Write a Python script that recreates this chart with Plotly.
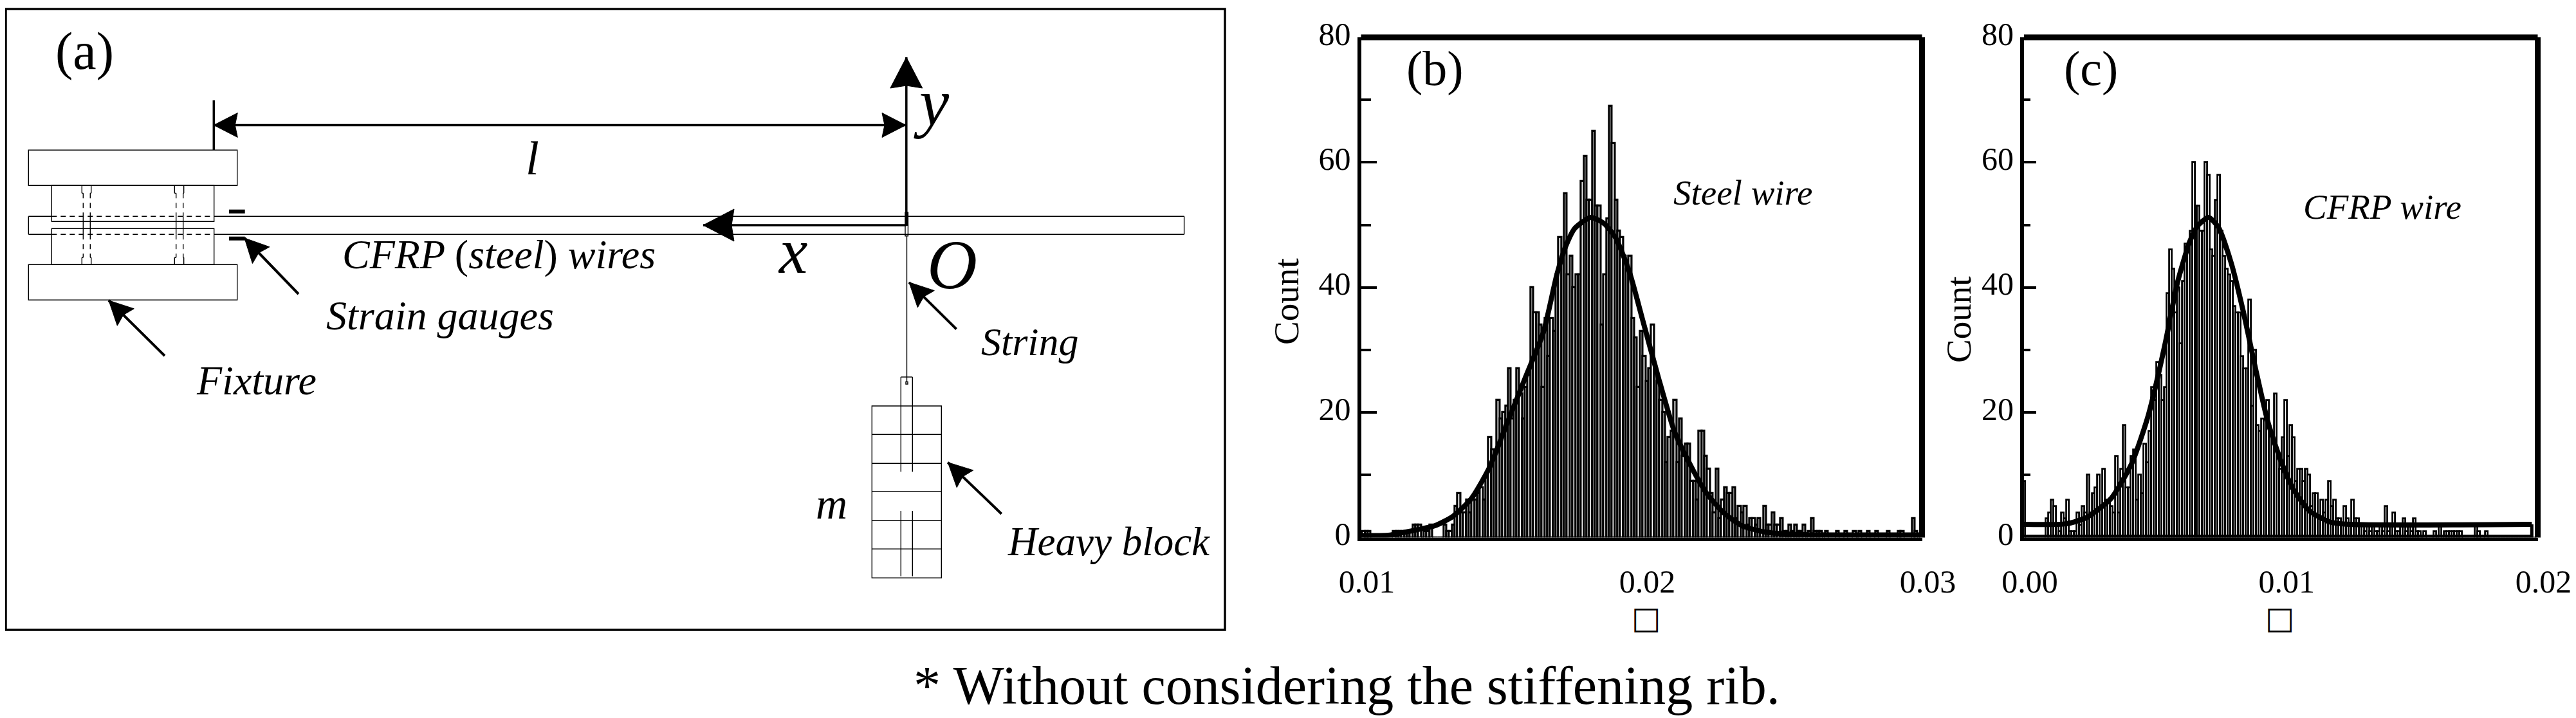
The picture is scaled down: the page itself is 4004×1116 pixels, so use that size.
"""Wire test figure: fixture schematic plus two count histograms."""
import math

import plotly.graph_objects as go

W, H = 4004, 1116
SERIF = "Liberation Serif"
PAGE_MARGIN = 8  # the page body adds this much before the plot starts

# (b) steel wire, counts per 0.0001 bin from 0.0100
steel_counts = [
    0, 1, 1, 1, 0, 0, 0, 0, 0, 0,
    0, 0, 1, 1, 1, 1, 1, 1, 1, 2,
    2, 2, 0, 1, 1, 2, 0, 0, 0, 0,
    2, 1, 1, 2, 5, 7, 4, 4, 6, 4,
    6, 6, 7, 8, 6, 10, 16, 14, 13, 22,
    19, 20, 21, 27, 19, 22, 27, 23, 19, 24,
    26, 40, 36, 36, 34, 24, 35, 29, 35, 33,
    42, 48, 45, 55, 42, 45, 40, 42, 42, 57,
    61, 54, 54, 65, 53, 53, 34, 42, 51, 69,
    63, 54, 49, 48, 45, 43, 45, 35, 32, 24,
    33, 29, 25, 27, 34, 27, 25, 22, 20, 12,
    16, 17, 22, 12, 19, 13, 15, 15, 9, 9,
    6, 17, 17, 13, 11, 7, 4, 11, 3, 6,
    8, 7, 7, 8, 3, 5, 4, 5, 2, 3,
    3, 2, 3, 1, 5, 2, 2, 4, 2, 2,
    3, 1, 1, 2, 1, 2, 1, 1, 2, 0,
    1, 3, 1, 1, 1, 0, 1, 0, 0, 0,
    1, 0, 0, 1, 0, 0, 1, 0, 1, 0,
    0, 1, 0, 0, 1, 0, 0, 0, 1, 0,
    0, 0, 1, 1, 0, 0, 0, 3, 1, 0,
]
steel_fit_x = [0.0100, 0.01103, 0.01183, 0.01264, 0.01328, 0.01393, 0.01457, 0.01521,
               0.01586, 0.0165, 0.01698, 0.0173, 0.01763, 0.01819, 0.01867, 0.01908,
               0.01956, 0.02004, 0.0206, 0.02117, 0.02165, 0.0223, 0.02294, 0.02358,
               0.02438, 0.0255, 0.0300]
steel_fit_y = [0.3, 0.4, 1.1, 1.9, 3.4, 6.2, 11.1, 18.3, 25.6, 32.8, 42, 46.6, 49.5,
               51.2, 50.2, 47.9, 42.6, 34.8, 25.6, 17, 12.4, 7.2, 3.9, 1.9, 0.9, 0.5, 0.4]

# (c) CFRP wire, counts per 0.0001 bin from 0.0000
cfrp_counts = [
    9, 0, 0, 0, 0, 0, 0, 0, 0, 3,
    4, 6, 5, 2, 1, 4, 3, 6, 1, 1,
    1, 4, 2, 5, 4, 10, 4, 7, 8, 10,
    5, 11, 6, 6, 5, 4, 13, 4, 11, 18,
    8, 8, 13, 14, 6, 10, 7, 15, 12, 17,
    24, 22, 28, 26, 22, 24, 39, 46, 43, 36,
    40, 31, 41, 47, 47, 49, 60, 53, 53, 49,
    49, 60, 58, 46, 45, 54, 58, 49, 45, 43,
    42, 41, 37, 36, 36, 29, 27, 27, 38, 21,
    30, 18, 17, 19, 19, 22, 17, 16, 23, 13,
    11, 16, 22, 13, 18, 16, 9, 11, 11, 9,
    11, 10, 5, 7, 7, 3, 6, 4, 6, 9,
    5, 6, 3, 3, 2, 5, 3, 2, 6, 3,
    3, 2, 2, 1, 2, 1, 2, 1, 1, 2,
    1, 5, 1, 2, 4, 1, 1, 2, 3, 1,
    2, 1, 3, 1, 1, 0, 1, 0, 0, 0,
    1, 0, 2, 0, 1, 1, 1, 1, 1, 1,
    1, 0, 0, 0, 0, 0, 2, 1, 0, 0,
    1, 0, 0, 0, 0, 0, 0, 0, 0, 0,
    0, 0, 0, 0, 0, 0, 0, 0, 0, 0,
]
cfrp_fit_x = [0.0, 0.00164, 0.00244, 0.0034, 0.0042, 0.00485, 0.00549, 0.00597, 0.00645,
              0.00677, 0.00719, 0.00757, 0.00806, 0.00854, 0.00902, 0.0095, 0.00998,
              0.01046, 0.0111, 0.0119, 0.0127, 0.01977]
cfrp_fit_y = [2.1, 2.2, 3.2, 6.3, 11.9, 19.7, 30.9, 40.7, 47.3, 49.9, 51.2, 49.6, 44,
              36.1, 26.9, 18.4, 12.5, 7.9, 4.3, 2.5, 2.1, 2.1]
# the baseline of the fit closes back along the axis at the right end
cfrp_close_x = [0.01977, 0.01977, 0.0]
cfrp_close_y = [2.1, 0.2, 0.2]

bin_width = 0.0001
y_ticks = [0, 20, 40, 60, 80]
steel_x_ticks = [0.01, 0.02, 0.03]
steel_x_labels = ["0.01", "0.02", "0.03"]
cfrp_x_ticks = [0.0, 0.01, 0.02]
cfrp_x_labels = ["0.00", "0.01", "0.02"]

fig = go.Figure()


def px(x):
    return (x - PAGE_MARGIN) / W


def py(y):
    return 1 - (y - PAGE_MARGIN) / H


def line(x0, y0, x1, y1, width=1.4, dash=None):
    fig.add_shape(type="line", xref="paper", yref="paper",
                  x0=px(x0), y0=py(y0), x1=px(x1), y1=py(y1),
                  line=dict(color="black", width=width, dash=dash))


def rect(x0, y0, x1, y1, width=1.4, fill=None):
    fig.add_shape(type="rect", xref="paper", yref="paper",
                  x0=px(x0), y0=py(y0), x1=px(x1), y1=py(y1),
                  fillcolor=fill, line=dict(color="black", width=width))


def head(tip_x, tip_y, from_x, from_y, length, half, notch):
    # barbed head, drawn as a filled path in paper coordinates
    d = math.hypot(tip_x - from_x, tip_y - from_y)
    ux, uy = (tip_x - from_x) / d, (tip_y - from_y) / d
    nx, ny = -uy, ux
    bx, by = tip_x - ux * length, tip_y - uy * length
    pts = [(tip_x, tip_y), (bx + nx * half, by + ny * half),
           (bx + ux * notch, by + uy * notch), (bx - nx * half, by - ny * half)]
    path = "M " + " L ".join(f"{px(a):.5f},{py(b):.5f}" for a, b in pts) + " Z"
    fig.add_shape(type="path", path=path, xref="paper", yref="paper",
                  fillcolor="black", line=dict(color="black", width=1))


def arrow(x0, y0, x1, y1, length=37, half=18.5, notch=5, width=4):
    line(x0, y0, x1, y1, width=width)
    head(x1, y1, x0, y0, length, half, notch)


def text(s, x, y, size, anchor="left", angle=0, font=SERIF):
    fig.add_annotation(text=s, xref="paper", yref="paper", x=px(x), y=py(y),
                       xanchor=anchor, yanchor="middle", showarrow=False, textangle=angle,
                       font=dict(family=font, size=size, color="black"))


# panel (a): outer box
rect(9, 14, 1904, 979, width=3.5)

# fixture plates
rect(44.3, 233.3, 368.7, 288.3)
rect(44.3, 411.3, 368.7, 466.3)
rect(80.3, 288.3, 332.7, 344.3)
rect(80.3, 355.3, 332.7, 411.3)

# wire, dashed where it runs inside the clamps
line(44.3, 336.3, 44.3, 364.3)
for wy in (336.3, 364.3):
    line(44.3, wy, 80.3, wy)
    line(80.3, wy, 332.7, wy, dash="8px,6px")
    line(332.7, wy, 1840.6, wy)
line(1840.6, 336.3, 1840.6, 364.3)

# bolts
for outer0, inner0, inner1, outer1 in ((127.3, 129.3, 140.3, 141.7), (271.3, 273.7, 284.7, 285.7)):
    for bx in (outer0, outer1):
        line(bx, 288.3, bx, 300.3)
        line(bx, 400.3, bx, 411.3)
    for by in (300.3, 400.3):
        line(outer0, by, inner0, by)
        line(inner1, by, outer1, by)
    for ix in (inner0, inner1):
        line(ix, 300.3, ix, 336.3, dash="8px,7px")
        line(ix, 336.3, ix, 364.3)
        line(ix, 364.3, ix, 400.3, dash="8px,7px")

# strain gauges
line(356, 328.7, 380.7, 328.7, width=6)
line(356, 370.7, 380.7, 370.7, width=6)

# dimension l and axes
line(332.3, 156, 332.3, 233.3, width=3.5)
line(332.3, 194.5, 1408, 194.5, width=3.5)
head(332.3, 194.5, 1408, 194.5, 37, 19, 4)
head(1408, 194.5, 332.3, 194.5, 37, 19, 4)
arrow(1408.8, 345, 1408.8, 89, length=48, half=25, notch=4, width=3.5)
arrow(1408.8, 350, 1093, 350, length=48, half=25, notch=4, width=3.5)
rect(1407, 330, 1411.4, 350, fill="black")
rect(1407, 350, 1411.4, 366.7)

# string and heavy block
line(1409.5, 366.7, 1409.5, 594)
rect(1408, 593.5, 1411, 597)
rect(1355.3, 631, 1463.3, 898.3)
for by in (675.3, 720.3, 764.3, 809.3, 853.3):
    line(1355.3, by, 1463.3, by)
for sx in (1400.3, 1418.3):
    line(sx, 586, sx, 733.3)
    line(sx, 794, sx, 895.7)
line(1400.3, 586, 1418.3, 586)

# leader arrows
arrow(464, 457, 380, 370)
arrow(256, 553, 169, 467)
arrow(1486.6, 511.5, 1413, 438.8)
arrow(1556.7, 798.7, 1473.3, 718.7)

# panel (a) labels
text("(a)", 131, 80, 82, "center")
text("<i>l</i>", 827, 245, 75, "center")
text("<i>CFRP </i>(<i>steel</i>)<i> wires</i>", 530, 395, 64)
text("<i>Strain gauges</i>", 505, 490, 64)
text("<i>Fixture</i>", 303, 591, 64)
text("<i>x</i>", 1232, 390, 100, "center")
text("<i>y</i>", 1448, 158, 104, "center")
text("<i>O</i>", 1480, 411, 108, "center")
text("<i>String</i>", 1523, 531, 62)
text("<i>m</i>", 1292, 783, 68, "center")
text("<i>Heavy block</i>", 1564, 842, 63)

# panel labels on the histograms
text("(b)", 2230, 106, 76, "center")
text("<i>Steel wire</i>", 2599, 299, 55)
text("(c)", 3250, 106, 76, "center")
text("<i>CFRP wire</i>", 3578, 321, 55)
text("Count", 2000, 469, 55, "center", angle=-90)
text("Count", 3044, 497, 55, "center", angle=-90)
text("□", 2558, 960, 48, "center", font="DejaVu Sans")
text("□", 3543, 960, 48, "center", font="DejaVu Sans")
text("* Without considering the stiffening rib.", 2093, 1065, 84, "center")

# panels (b) and (c)
panels = [
    ("x", "y", 0.01, 0.03, 2115.5, 2987.5, steel_counts, steel_fit_x, steel_fit_y,
     steel_x_ticks, steel_x_labels, 24, 15, 3.2),
    ("x2", "y2", 0.0, 0.02, 3146, 3944.5, cfrp_counts, cfrp_fit_x, cfrp_fit_y,
     cfrp_x_ticks, cfrp_x_labels, 19, 10, 2.8),
]
for xref, yref, x_min, x_max, left, right, counts, fit_x, fit_y, x_ticks, x_labels, major, minor, outline in panels:
    fig.add_trace(go.Bar(x=[x_min + i * bin_width for i in range(len(counts))], y=counts,
                         width=bin_width, xaxis=xref, yaxis=yref, showlegend=False,
                         marker=dict(color="white", line=dict(color="black", width=outline))))
    fig.add_trace(go.Scatter(x=fit_x, y=fit_y, mode="lines", xaxis=xref, yaxis=yref,
                             showlegend=False, cliponaxis=False,
                             line=dict(color="black", width=8, shape="spline", smoothing=0.6)))
    xname = "xaxis" if xref == "x" else "xaxis2"
    yname = "yaxis" if yref == "y" else "yaxis2"
    fig.update_layout({
        xname: dict(domain=[px(left), px(right)], range=[x_min, x_max], anchor=yref,
                    automargin=False, tickvals=x_ticks, ticktext=x_labels, ticks="outside",
                    ticklen=20, tickcolor="rgba(0,0,0,0)", showgrid=False, zeroline=False,
                    showline=True, linecolor="black", linewidth=5, ticklabelshift=9,
                    tickfont=dict(family=SERIF, size=50, color="black")),
        yname: dict(domain=[py(835.5), py(58)], range=[0, 80], anchor=xref,
                    automargin=False, tickvals=y_ticks, ticks="inside", ticklen=major,
                    tickwidth=4, tickcolor="black", showgrid=False, zeroline=False,
                    showline=True, linecolor="black", linewidth=6, ticklabelshift=-6,
                    minor=dict(tickvals=[10, 30, 50, 70], ticks="inside", ticklen=minor,
                               tickwidth=4, tickcolor="black"),
                    tickfont=dict(family=SERIF, size=50, color="black")),
    })
    # thick top and right frame
    dx = xref + " domain"
    dy = yref + " domain"
    fig.add_shape(type="line", xref=dx, yref=dy, x0=0, x1=1, y0=1, y1=1,
                  line=dict(color="black", width=9))
    fig.add_shape(type="line", xref=dx, yref=dy, x0=1, x1=1, y0=0, y1=1,
                  line=dict(color="black", width=9))

fig.add_trace(go.Scatter(x=cfrp_close_x, y=cfrp_close_y, mode="lines", xaxis="x2", yaxis="y2",
                         showlegend=False, cliponaxis=False,
                         line=dict(color="black", width=5)))

fig.update_layout(width=W, height=H, margin=dict(l=0, r=0, t=0, b=0, autoexpand=False),
                  autosize=False, plot_bgcolor="white", paper_bgcolor="white", bargap=0,
                  barmode="overlay", font=dict(family=SERIF, color="black"), showlegend=False)

fig.write_html("out.html")
